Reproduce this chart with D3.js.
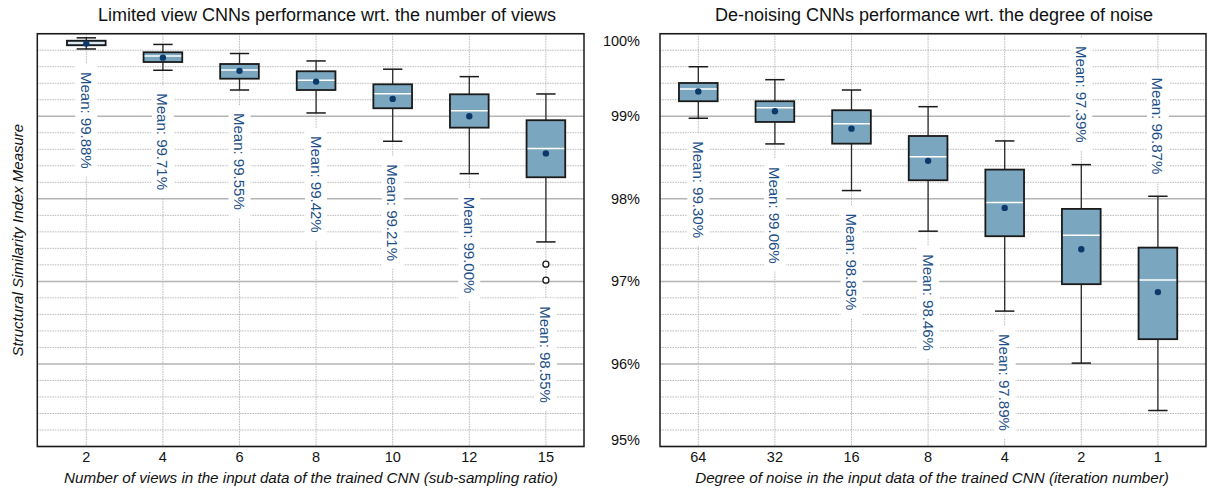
<!DOCTYPE html>
<html lang="en">
	<head>
		<meta charset="utf-8">
		<title>CNN performance box plots</title>
		<script type="text/javascript" src="https://cdn.jsdelivr.net/npm/d3@7"></script>
		<style type="text/css">
			body { margin: 0; background: #fff; }
			text { font-family: "Liberation Sans", Arial, sans-serif; }
		</style>
	</head>
	<body>
		<script type="text/javascript">

			//Width and height
			var w = 1208;
			var h = 490;

			//Left panel data (SSIM in %)
			var viewCats = ["2", "4", "6", "8", "10", "12", "15"];
			var viewWhiskHi = [99.95, 99.87, 99.76, 99.67, 99.57, 99.48, 99.27];
			var viewQ3 = [99.915, 99.775, 99.633, 99.545, 99.387, 99.266, 98.952];
			var viewMedian = [99.887, 99.73, 99.56, 99.436, 99.274, 99.068, 98.608];
			var viewQ1 = [99.86, 99.657, 99.455, 99.318, 99.097, 98.862, 98.261];
			var viewWhiskLo = [99.815, 99.557, 99.318, 99.04, 98.697, 98.305, 97.478];
			var viewMean = [99.88, 99.71, 99.55, 99.42, 99.21, 99.00, 98.55];
			var viewOutliers = [[], [], [], [], [], [], [97.208, 97.015]];

			//Right panel data (SSIM in %)
			var noiseCats = ["64", "32", "16", "8", "4", "2", "1"];
			var noiseWhiskHi = [99.60, 99.443, 99.318, 99.116, 98.701, 98.414, 98.031];
			var noiseQ3 = [99.403, 99.182, 99.073, 98.761, 98.354, 97.878, 97.409];
			var noiseMedian = [99.33, 99.104, 98.91, 98.511, 97.954, 97.559, 97.018];
			var noiseQ1 = [99.182, 98.931, 98.668, 98.225, 97.547, 96.966, 96.30];
			var noiseWhiskLo = [98.976, 98.665, 98.10, 97.608, 96.64, 96.01, 95.436];
			var noiseMean = [99.30, 99.06, 98.85, 98.46, 97.89, 97.39, 96.87];
			var noiseOutliers = [[], [], [], [], [], [], []];

			//Y axis ticks
			var yTicks = [95, 96, 97, 98, 99, 100];

			var yTop = 33.7;
			var yBottom = 446.5;

			var yScale = d3.scaleLinear()
							.domain([95, 100])
							.range([yBottom, yTop]);

			//Create SVG element
			var svg = d3.select("body")
						.append("svg")
						.attr("width", w)
						.attr("height", h);

			function drawPanel(opt) {
				var cats = opt.cats;
				var rows = cats.map(function(c, i) {
					return {
						cat: c,
						hi: opt.hi[i], q3: opt.q3[i], med: opt.med[i],
						q1: opt.q1[i], lo: opt.lo[i], mean: opt.mean[i],
						out: opt.out[i]
					};
				});

				var xScale = d3.scaleBand()
								.domain(cats)
								.range(opt.bandRange)
								.padding(0);

				var g = svg.append("g");
				var boxW = xScale.bandwidth() * 0.505;
				var cx = function(d) { return xScale(d.cat) + xScale.bandwidth() / 2; };

				//Minor grid every 0.2%
				var minor = d3.range(95, 100.001, 0.2).map(function(v) { return +v.toFixed(1); })
							.filter(function(v) { return Math.abs(v - Math.round(v)) > 0.01; });
				g.selectAll("line.minor")
				 .data(minor)
				 .enter()
				 .append("line")
				 .attr("x1", opt.x0)
				 .attr("x2", opt.x1)
				 .attr("y1", function(d) { return yScale(d); })
				 .attr("y2", function(d) { return yScale(d); })
				 .attr("stroke", "#b8b8b8")
				 .attr("stroke-width", 1)
				 .attr("stroke-dasharray", "1.5,1");

				//Major grid every 1%
				g.selectAll("line.major")
				 .data(yTicks)
				 .enter()
				 .append("line")
				 .attr("x1", opt.x0)
				 .attr("x2", opt.x1)
				 .attr("y1", function(d) { return yScale(d); })
				 .attr("y2", function(d) { return yScale(d); })
				 .attr("stroke", "#b4b4b4")
				 .attr("stroke-width", 1.5);

				//Vertical grid at each category
				g.selectAll("line.vgrid")
				 .data(rows)
				 .enter()
				 .append("line")
				 .attr("x1", cx)
				 .attr("x2", cx)
				 .attr("y1", yTop)
				 .attr("y2", yBottom)
				 .attr("stroke", "#b8b8b8")
				 .attr("stroke-width", 1)
				 .attr("stroke-dasharray", "1.5,1");

				//Mean labels (below the whiskers, or above when no room)
				var fontSize = 15;
				rows.forEach(function(d) {
					var lowest = yScale(d.lo);
					d.out.forEach(function(o) { lowest = Math.max(lowest, yScale(o) + 3); });
					var lab = g.append("g");
					var t = lab.append("text")
							   .text("Mean: " + d.mean.toFixed(2) + "%")
							   .attr("font-size", fontSize + "px")
							   .attr("fill", "#1d4f87")
							   .attr("dominant-baseline", "central");
					var len = t.node().getComputedTextLength();
					var start = lowest + 23;
					if (start + len > yBottom - 5) {
						start = yScale(d.hi) - 22 - len;
					}
					t.attr("transform", "translate(" + cx(d) + "," + start + ") rotate(90)");
					lab.insert("rect", "text")
					   .attr("x", cx(d) - 11)
					   .attr("y", start - 8)
					   .attr("width", 22)
					   .attr("height", len + 16)
					   .attr("fill", "white");
				});

				//Whiskers
				g.selectAll("line.whisk")
				 .data(rows)
				 .enter()
				 .append("line")
				 .attr("x1", cx)
				 .attr("x2", cx)
				 .attr("y1", function(d) { return yScale(d.hi); })
				 .attr("y2", function(d) { return yScale(d.lo); })
				 .attr("stroke", "#2b2b2b")
				 .attr("stroke-width", 1.3);

				//Caps
				["hi", "lo"].forEach(function(k) {
					g.selectAll("line.cap" + k)
					 .data(rows)
					 .enter()
					 .append("line")
					 .attr("x1", function(d) { return cx(d) - boxW / 4; })
					 .attr("x2", function(d) { return cx(d) + boxW / 4; })
					 .attr("y1", function(d) { return yScale(d[k]); })
					 .attr("y2", function(d) { return yScale(d[k]); })
					 .attr("stroke", "#1a1a1a")
					 .attr("stroke-width", 1.5);
				});

				//Boxes
				g.selectAll("rect.box")
				 .data(rows)
				 .enter()
				 .append("rect")
				 .attr("x", function(d) { return cx(d) - boxW / 2; })
				 .attr("y", function(d) { return yScale(d.q3); })
				 .attr("width", boxW)
				 .attr("height", function(d) { return yScale(d.q1) - yScale(d.q3); })
				 .attr("fill", "#7ba6bf")
				 .attr("stroke", "#1a1a1a")
				 .attr("stroke-width", 1.8);

				//Medians
				g.selectAll("line.med")
				 .data(rows)
				 .enter()
				 .append("line")
				 .attr("x1", function(d) { return cx(d) - boxW / 2 + 1; })
				 .attr("x2", function(d) { return cx(d) + boxW / 2 - 1; })
				 .attr("y1", function(d) { return yScale(d.med); })
				 .attr("y2", function(d) { return yScale(d.med); })
				 .attr("stroke", "white")
				 .attr("stroke-width", 1.5);

				//Means
				g.selectAll("circle.mean")
				 .data(rows)
				 .enter()
				 .append("circle")
				 .attr("cx", cx)
				 .attr("cy", function(d) { return yScale(d.mean); })
				 .attr("r", 3.2)
				 .attr("fill", "#0b3a6a");

				//Outliers
				rows.forEach(function(d) {
					g.selectAll(null)
					 .data(d.out)
					 .enter()
					 .append("circle")
					 .attr("cx", cx(d))
					 .attr("cy", function(o) { return yScale(o); })
					 .attr("r", 3)
					 .attr("fill", "white")
					 .attr("stroke", "#1a1a1a")
					 .attr("stroke-width", 1.3);
				});

				//Frame
				g.append("rect")
				 .attr("x", opt.x0)
				 .attr("y", yTop)
				 .attr("width", opt.x1 - opt.x0)
				 .attr("height", yBottom - yTop)
				 .attr("fill", "none")
				 .attr("stroke", "#1a1a1a")
				 .attr("stroke-width", 1.5);

				//X tick labels
				g.selectAll("text.xtick")
				 .data(rows)
				 .enter()
				 .append("text")
				 .text(function(d) { return d.cat; })
				 .attr("x", cx)
				 .attr("y", 457)
				 .attr("text-anchor", "middle")
				 .attr("dominant-baseline", "central")
				 .attr("font-size", "14.5px")
				 .attr("fill", "#111");

				//Title
				g.append("text")
				 .text(opt.title)
				 .attr("x", opt.titleX)
				 .attr("y", 15)
				 .attr("text-anchor", "middle")
				 .attr("dominant-baseline", "central")
				 .attr("font-size", "18px")
				 .attr("fill", "#111");

				//X axis title
				g.append("text")
				 .text(opt.xTitle)
				 .attr("x", opt.xTitleX)
				 .attr("y", 477)
				 .attr("text-anchor", "middle")
				 .attr("dominant-baseline", "central")
				 .attr("font-size", "15.2px")
				 .attr("font-style", "italic")
				 .attr("fill", "#111");

				return g;
			}

			drawPanel({
				cats: viewCats, hi: viewWhiskHi, q3: viewQ3, med: viewMedian,
				q1: viewQ1, lo: viewWhiskLo, mean: viewMean, out: viewOutliers,
				x0: 37.3, x1: 584, bandRange: [48, 584.2],
				title: "Limited view CNNs performance wrt. the number of views", titleX: 327,
				xTitle: "Number of views in the input data of the trained CNN (sub-sampling ratio)", xTitleX: 311
			});

			drawPanel({
				cats: noiseCats, hi: noiseWhiskHi, q3: noiseQ3, med: noiseMedian,
				q1: noiseQ1, lo: noiseWhiskLo, mean: noiseMean, out: noiseOutliers,
				x0: 660, x1: 1206, bandRange: [660, 1196.2],
				title: "De-noising CNNs performance wrt. the degree of noise", titleX: 934,
				xTitle: "Degree of noise in the input data of the trained CNN (iteration number)", xTitleX: 932
			});

			//Y tick labels (right panel only), end labels kept inside the frame
			svg.selectAll("text.ytick")
			   .data(yTicks)
			   .enter()
			   .append("text")
			   .text(function(d) { return d + "%"; })
			   .attr("x", 640)
			   .attr("y", function(d) {
			   		var y = yScale(d);
			   		if (d === 100) y += 7;
			   		if (d === 95) y -= 6.5;
			   		return y;
			   })
			   .attr("text-anchor", "end")
			   .attr("dominant-baseline", "central")
			   .attr("font-size", "14.5px")
			   .attr("fill", "#111");

			//Y axis title
			svg.append("text")
			   .text("Structural Similarity Index Measure")
			   .attr("transform", "translate(17," + ((yTop + yBottom) / 2) + ") rotate(-90)")
			   .attr("text-anchor", "middle")
			   .attr("dominant-baseline", "central")
			   .attr("font-size", "15px")
			   .attr("font-style", "italic")
			   .attr("fill", "#111");

		</script>
	</body>
</html>
